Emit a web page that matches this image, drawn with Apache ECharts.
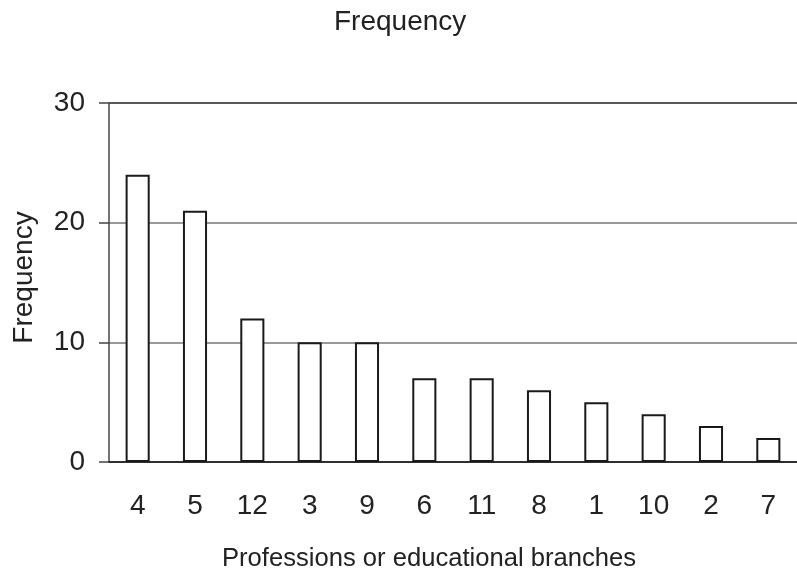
<!DOCTYPE html>
<html>
<head>
<meta charset="utf-8">
<script src="https://cdn.jsdelivr.net/npm/echarts@6/dist/echarts.min.js"></script>
<style>html,body{margin:0;padding:0;background:#fff}#c{width:797px;height:577px}</style>
</head>
<body>
<div id="c"></div>
<script>
const categories = ['4','5','12','3','9','6','11','8','1','10','2','7'];
const frequency = [24, 21, 12, 10, 10, 7, 7, 6, 5, 4, 3, 2];
const yTicks = [0, 10, 20, 30];

const chart = echarts.init(document.getElementById('c'), null, {renderer: 'canvas'});
const font = 'Liberation Sans, Arial, sans-serif';
chart.setOption({
  animation: false,
  backgroundColor: '#fff',
  title: {
    text: 'Frequency', left: 329, top: 3,
    textStyle: {fontFamily: font, fontSize: 28, fontWeight: 'normal', color: '#222'}
  },
  grid: {left: 109, right: 0, top: 103, bottom: 114, containLabel: false},
  xAxis: {
    type: 'category', data: categories,
    name: 'Professions or educational branches', nameLocation: 'middle', nameGap: 84,
    nameTextStyle: {fontFamily: font, fontSize: 25.6, color: '#222', padding: [0, 48, 0, 0]},
    axisLine: {lineStyle: {color: '#222', width: 1.5}},
    axisTick: {length: 10, lineStyle: {color: '#777', width: 1.5}},
    axisLabel: {fontFamily: font, fontSize: 28, color: '#222', margin: 30}
  },
  yAxis: {
    type: 'value', min: yTicks[0], max: yTicks[yTicks.length-1], interval: 10,
    name: 'Frequency', nameLocation: 'middle', nameGap: 71,
    nameTextStyle: {fontFamily: font, fontSize: 28, color: '#222', padding: [0, 0, 0, 10]},
    axisLine: {show: true, lineStyle: {color: '#444', width: 1.5}},
    axisTick: {show: true, length: 10, lineStyle: {color: '#444', width: 1.5}},
    axisLabel: {fontFamily: font, fontSize: 28, color: '#222', margin: 24},
    splitLine: {show: true, lineStyle: {color: ['#222', '#777', '#777', '#222'], width: 1.5}}
  },
  series: [{
    type: 'bar', data: frequency, barWidth: '42%',
    itemStyle: {color: '#fff', borderColor: '#1a1a1a', borderWidth: 2}
  }]
});
</script>
</body>
</html>
